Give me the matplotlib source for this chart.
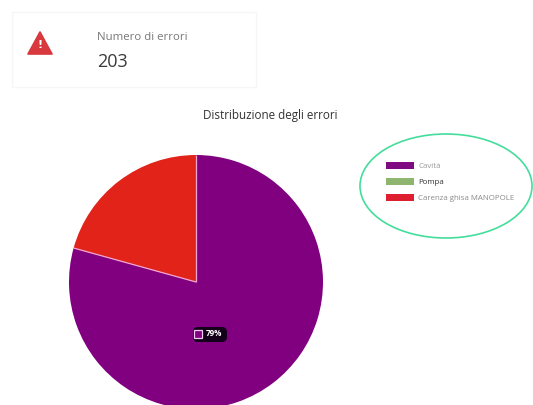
import math

import matplotlib
matplotlib.use("Agg")
import matplotlib.pyplot as plt
from matplotlib.patches import Ellipse, FancyBboxPatch, Patch, Polygon, Rectangle

# Error counts per category
categories = ["Cavità", "Pompa", "Carenza ghisa MANOPOLE"]
counts = [161, 0, 42]
slice_colors = ["#800080", "#8fb56f", "#e2231a"]
legend_colors = ["#800a80", "#8fb56f", "#dd1f30"]
card_label = "Numero di errori"
card_value = sum(counts)
chart_title = "Distribuzione degli errori"
W, H = 533, 405


def flip(y):
    return H - y


plt.rcParams["font.family"] = ["Open Sans", "DejaVu Sans"]
fig = plt.figure(figsize=(W / 100, H / 100), dpi=100, facecolor="white")
ax = fig.add_axes([0, 0, 1, 1])

# Pie runs clockwise from twelve o'clock and is cut by the lower page edge
wedges, _ = ax.pie(
    counts,
    colors=slice_colors,
    startangle=90,
    counterclock=False,
    center=(196, flip(282)),
    radius=127,
    frame=True,
    wedgeprops={"edgecolor": "none"},
)
for w in wedges:
    w.set_clip_on(True)
ax.set_xlim(0, W)
ax.set_ylim(0, H)
ax.set_aspect("equal")
ax.axis("off")

# Thin light separators between the visible slices, with no outer rim
for w in wedges:
    if w.theta2 - w.theta1 > 0:
        a = math.radians(w.theta2)
        cx, cy = w.center
        ax.plot([cx, cx + w.r * math.cos(a)], [cy, cy + w.r * math.sin(a)],
                color="#f2a6cf", linewidth=0.9, solid_capstyle="butt", zorder=3)

# Summary card
ax.add_patch(Rectangle((12, flip(87)), 244, 75, facecolor="white",
                       edgecolor="#f5f6f6", linewidth=1.0))
ax.add_patch(Polygon([(28, flip(54)), (52, flip(54)), (40, flip(32))], closed=True,
                     facecolor="#d8393f", edgecolor="#d8393f", linewidth=1.2, joinstyle="round"))
ax.text(40, flip(45), "!", color="white", fontsize=8, fontweight="bold",
        ha="center", va="center", family="DejaVu Sans")
ax.text(97, flip(38), card_label, fontsize=8.2, color="#777777", ha="left", va="center")
ax.text(97, flip(62), str(card_value), fontsize=13, color="#3a3a3a", ha="left", va="center")

ax.text(270, flip(115), chart_title, fontsize=8.4, color="#333333", ha="center", va="center")

# Percentage tag on the largest slice
share = counts[0] / sum(counts) * 100
ax.add_patch(FancyBboxPatch((195, flip(340)), 30, 11, boxstyle="round,pad=2,rounding_size=5",
                            facecolor="#14001a", edgecolor="none", zorder=4))
ax.text(214, flip(334), f"{share:.0f}%", fontsize=5.8, fontweight="bold", color="white",
        ha="center", va="center", zorder=6)
ax.add_patch(Rectangle((194, flip(338)), 8, 8, facecolor="#800080", edgecolor="#f0c8f0",
                       linewidth=0.9, zorder=5))

# Legend and the hand-drawn ring around it
handles = [Patch(facecolor=c, edgecolor="none", label=t) for c, t in zip(legend_colors, categories)]
leg = ax.legend(
    handles=handles,
    loc="upper left",
    bbox_to_anchor=(386, flip(161.5)),
    bbox_transform=ax.transData,
    frameon=False,
    fontsize=5.7,
    handlelength=3.55,
    handleheight=1.0,
    handletextpad=0.55,
    labelspacing=1.0,
    borderpad=0,
    borderaxespad=0,
)
label_colors = ["#999999", "#333333", "#8a8a8a"]
for txt, c in zip(leg.get_texts(), label_colors):
    txt.set_color(c)

ax.add_patch(Ellipse((446, flip(186)), 172, 104, facecolor="none",
                     edgecolor="#45dd9c", linewidth=1.2))

fig.savefig("out.png", dpi=100, facecolor="white")
